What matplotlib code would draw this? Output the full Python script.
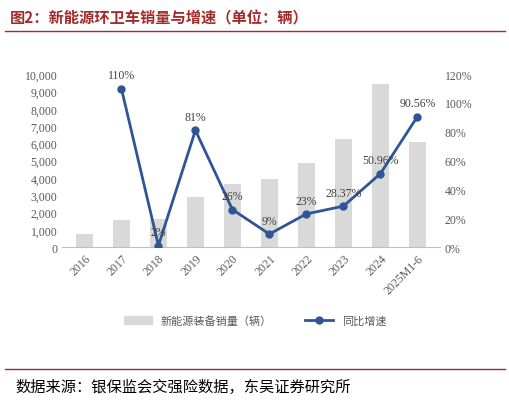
import matplotlib
matplotlib.use("Agg")
import matplotlib.pyplot as plt
from matplotlib.lines import Line2D

plt.rcParams['font.family'] = ['Noto Sans CJK SC', 'DejaVu Sans']

years = ["2016", "2017", "2018", "2019", "2020", "2021", "2022", "2023", "2024", "2025M1-6"]
sales = [750, 1550, 1600, 2900, 3650, 3950, 4850, 6250, 9450, 6050]
growth = [None, 110, 1, 81, 26, 9, 23, 28.37, 50.96, 90.56]
growth_labels = ["", "110%", "2%", "81%", "26%", "9%", "23%", "28.37%", "50.96%", "90.56%"]

fig = plt.figure(figsize=(5.10, 4.02), dpi=100)
ax = fig.add_axes([0.122, 0.383, 0.74, 0.43])
x = list(range(len(years)))
ax.bar(x, sales, width=0.45, color="#d9d9d9")
ax.set_ylim(0, 10000)
ax.set_yticks(range(0, 10001, 1000))
ax.set_yticklabels([f"{v:,}" for v in range(0, 10001, 1000)], fontsize=8.5, color="#595959", family="Liberation Serif")
ax.set_xlim(-0.6, len(years) - 0.4)
ax.set_xticks(x)
ax.set_xticklabels(years, rotation=45, fontsize=8.5, color="#595959", ha="right", rotation_mode="anchor", family="Liberation Serif")
for s in ["top", "right", "left"]:
    ax.spines[s].set_visible(False)
ax.spines["bottom"].set_color("#bfbfbf")
ax.tick_params(length=0)

ax2 = ax.twinx()
gx = [i for i, g in zip(x, growth) if g is not None]
gy = [g for g in growth if g is not None]
ax2.plot(gx, gy, color="#2f5597", lw=2, marker="o", ms=5)
ax2.set_ylim(0, 120)
ax2.set_yticks(range(0, 121, 20))
ax2.set_yticklabels([f"{v}%" for v in range(0, 121, 20)], fontsize=8.5, color="#595959", family="Liberation Serif")
for s in ["top", "right", "left", "bottom"]:
    ax2.spines[s].set_visible(False)
ax2.tick_params(length=0)
for i, g, l in zip(x, growth, growth_labels):
    if g is None:
        continue
    ax2.text(i, g + 5, l, ha="center", va="bottom", fontsize=8.5, color="#404040", family="Liberation Serif")

handles = [plt.Rectangle((0, 0), 1, 1, color="#d9d9d9"),
           Line2D([0], [0], color="#2f5597", lw=2, marker="o", ms=5)]
fig.legend(handles, ["新能源装备销量（辆）", "同比增速"], loc="center", bbox_to_anchor=(0.5, 0.2),
           ncol=2, frameon=False, fontsize=8, labelcolor="#595959", handlelength=2.5, columnspacing=3)

fig.text(0.02, 0.955, "图2：新能源环卫车销量与增速（单位：辆）", fontsize=11, weight="bold", color="#a52a2a", va="center")
fig.add_artist(Line2D([0.01, 0.99], [0.92, 0.92], color="#a52a2a", lw=1))
fig.add_artist(Line2D([0.01, 0.99], [0.08, 0.08], color="#a52a2a", lw=1))
fig.text(0.03, 0.035, "数据来源：银保监会交强险数据，东吴证券研究所", fontsize=11, color="#000000", va="center")
fig.savefig("out.png", dpi=100)
